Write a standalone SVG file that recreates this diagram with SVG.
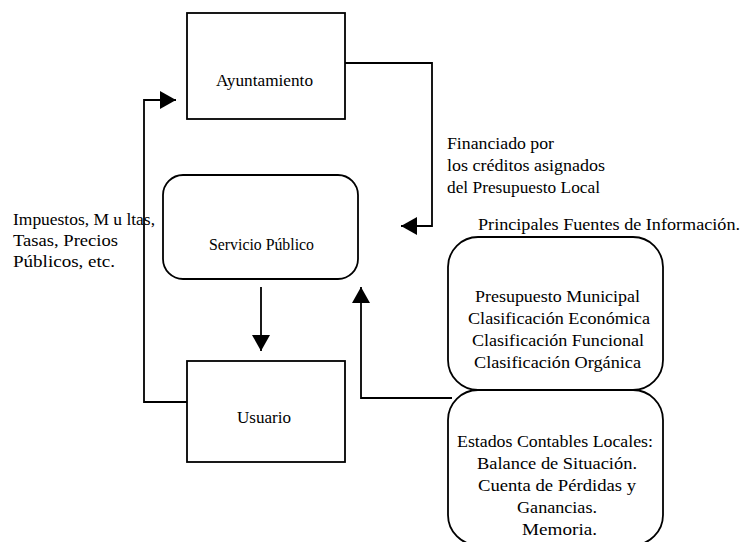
<svg xmlns="http://www.w3.org/2000/svg" width="744" height="542" viewBox="0 0 744 542">
  <style>
    .box { fill: #fff; stroke: #000; stroke-width: 1.8; }
    .wire { fill: none; stroke: #000; stroke-width: 1.8; }
    text { font-family: "Liberation Serif", "Times New Roman", serif; font-size: 16px; fill: #000; }
  </style>
  <defs>
    <marker id="arrow" viewBox="0 0 16 18" refX="16" refY="9" markerWidth="16" markerHeight="18" markerUnits="userSpaceOnUse" orient="auto">
      <path d="M0,0 L16,9 L0,18 Z" fill="#000"/>
    </marker>
  </defs>

  <g id="connectors">
    <!-- Ayuntamiento -> Servicio Público (funding) -->
    <path class="wire" d="M345,63 H432 V226 H401" marker-end="url(#arrow)"/>
    <!-- Usuario -> Ayuntamiento (taxes) -->
    <path class="wire" d="M187,402 H144 V100 H176" marker-end="url(#arrow)"/>
    <!-- Servicio Público -> Usuario -->
    <path class="wire" d="M261,287 V351" marker-end="url(#arrow)"/>
    <!-- Information sources -> Servicio Público -->
    <path class="wire" d="M452,398 H361 V287" marker-end="url(#arrow)"/>
  </g>

  <g id="ayuntamiento">
    <rect class="box" x="187" y="13" width="158" height="106"/>
    <text x="216" y="86" textLength="97" lengthAdjust="spacingAndGlyphs">Ayuntamiento</text>
  </g>

  <g id="servicio-publico">
    <rect class="box" x="163" y="175" width="195" height="104" rx="20" ry="20"/>
    <text x="209" y="250" textLength="105" lengthAdjust="spacingAndGlyphs">Servicio Público</text>
  </g>

  <g id="usuario">
    <rect class="box" x="187" y="361" width="158" height="101"/>
    <text x="237" y="423" textLength="54" lengthAdjust="spacingAndGlyphs">Usuario</text>
  </g>

  <g id="presupuesto">
    <rect class="box" x="448" y="237" width="215" height="153" rx="30" ry="30"/>
    <text x="475" y="302" textLength="165" lengthAdjust="spacingAndGlyphs">Presupuesto Municipal</text>
    <text x="468" y="324" textLength="182" lengthAdjust="spacingAndGlyphs">Clasificación Económica</text>
    <text x="472" y="346" textLength="172" lengthAdjust="spacingAndGlyphs">Clasificación Funcional</text>
    <text x="474" y="368" textLength="167" lengthAdjust="spacingAndGlyphs">Clasificación Orgánica</text>
  </g>

  <g id="estados-contables">
    <rect class="box" x="448" y="390" width="215" height="155" rx="30" ry="30"/>
    <text x="457" y="447" textLength="196" lengthAdjust="spacingAndGlyphs">Estados Contables Locales:</text>
    <text x="477" y="469" textLength="160" lengthAdjust="spacingAndGlyphs">Balance de Situación.</text>
    <text x="478" y="491" textLength="158" lengthAdjust="spacingAndGlyphs">Cuenta de Pérdidas y</text>
    <text x="517" y="513" textLength="80" lengthAdjust="spacingAndGlyphs">Ganancias.</text>
    <text x="522" y="535" textLength="75" lengthAdjust="spacingAndGlyphs">Memoria.</text>
  </g>

  <g id="labels">
    <text x="447" y="149" textLength="107" lengthAdjust="spacingAndGlyphs">Financiado por</text>
    <text x="447" y="171" textLength="158" lengthAdjust="spacingAndGlyphs">los créditos asignados</text>
    <text x="447" y="193" textLength="153" lengthAdjust="spacingAndGlyphs">del Presupuesto Local</text>
    <text x="478" y="230" textLength="262" lengthAdjust="spacingAndGlyphs">Principales Fuentes de Información.</text>
    <text x="13" y="225" textLength="142" lengthAdjust="spacingAndGlyphs">Impuestos, M u ltas,</text>
    <text x="13" y="246" textLength="105" lengthAdjust="spacingAndGlyphs">Tasas, Precios</text>
    <text x="13" y="267" textLength="102" lengthAdjust="spacingAndGlyphs">Públicos, etc.</text>
  </g>
</svg>
